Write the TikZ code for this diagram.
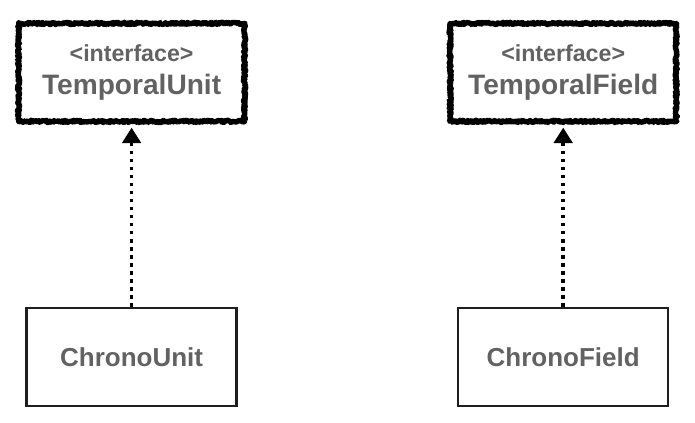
\documentclass[tikz,border=0pt]{standalone}
\usepackage{fontspec}
\setmainfont{Liberation Sans}
\usepackage{tikz}
\usetikzlibrary{arrows.meta,decorations.pathmorphing}
\definecolor{labelgray}{RGB}{98,98,98}
\definecolor{boxline}{RGB}{30,30,30}
\tikzstyle{interfacebox} = [rectangle, minimum width=5.65cm, minimum height=2.45cm, draw=black, line width=3.8pt, line join=round, line cap=round, decorate, decoration={random steps, segment length=0.6pt, amplitude=0.8pt}, text=labelgray, align=center, font=\bfseries\fontsize{20}{24}\selectfont]
\tikzstyle{classbox} = [rectangle, minimum width=5.25cm, minimum height=2.45cm, draw=boxline, line width=1.7pt, text=labelgray, font=\bfseries\fontsize{18.5}{22}\selectfont]
\tikzstyle{arrow} = [line width=2.7pt, dash pattern=on 2.7pt off 3pt, -{Triangle[length=11pt,width=13pt]}, shorten >=2.5pt]
\newcommand{\stereo}[1]{{\fontsize{16.5}{20}\selectfont <#1>}}

\begin{document}
\begin{tikzpicture}
\useasboundingbox (0,0) rectangle (17.375,-10.55);
\node (unit) [interfacebox] at (3.29,-1.81) {\stereo{interface}\\[-1pt]
TemporalUnit};
\node (field) [interfacebox, right of=unit, node distance=10.79cm] {\stereo{interface}\\[-1pt]
TemporalField};
\node (cunit) [classbox, below of=unit, node distance=7.11cm] {ChronoUnit};
\node (cfield) [classbox, below of=field, node distance=7.11cm] {ChronoField};
\draw[arrow] (cunit) -- (unit);
\draw[arrow] (cfield) -- (field);
\end{tikzpicture}
\end{document}
